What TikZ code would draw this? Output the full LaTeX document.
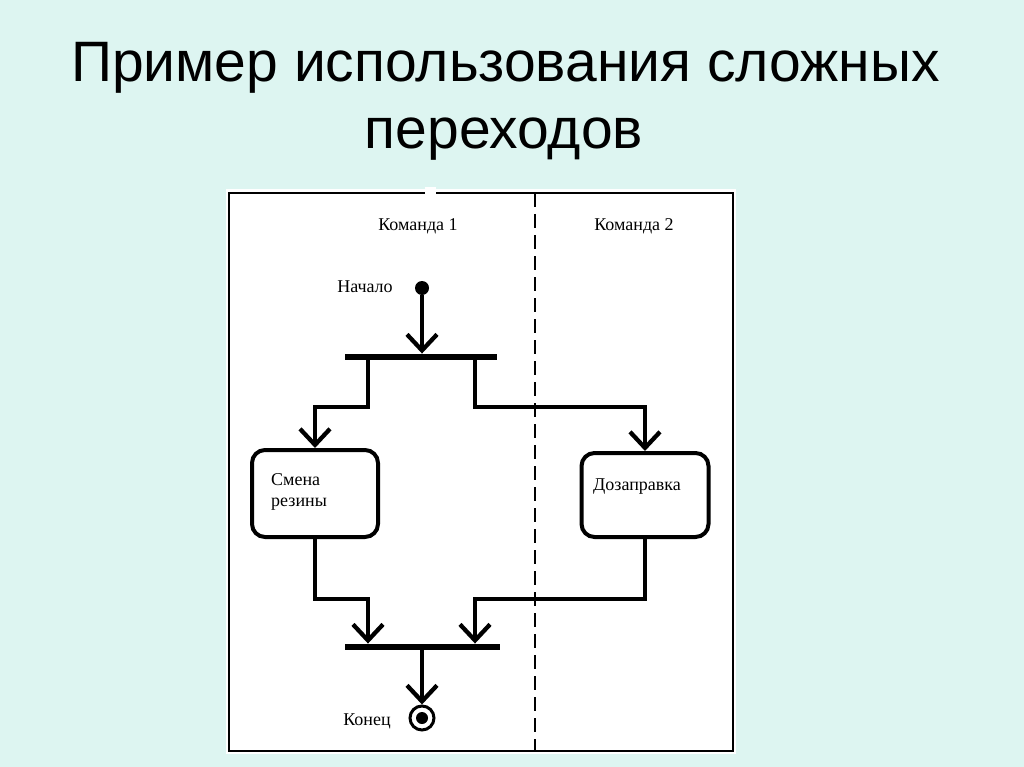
\documentclass[tikz,border=0pt]{standalone}
\usepackage{fontspec}
\setmainfont{Liberation Sans}
\newfontfamily\diagfont{Liberation Serif}
\usetikzlibrary{arrows.meta}
\definecolor{bgc}{RGB}{221,245,241}
\begin{document}
\begin{tikzpicture}[x=1pt,y=-1pt,
 title/.style={font=\fontsize{57}{57}\selectfont, anchor=base, inner sep=0},
 lbl/.style={font=\diagfont\fontsize{18}{18}\selectfont, inner sep=0},
 bar/.style={fill=black, inner sep=0, minimum height=6.5pt},
 act/.style={draw, line width=4pt, rounded corners=13pt, inner sep=0},
 flow/.style={line width=4.3pt, -{Straight Barb[length=16pt,width=30pt]}},
 plain/.style={line width=4pt}
]
\fill[bgc] (0,0) rectangle (1024,767);
\useasboundingbox (0,0) rectangle (1024,767);
% title
\node[title] (title1) at (505.5,82) {Пример использования сложных};
\node[title] (title2) at (504,149) {переходов};
% panel and frame
\fill[white] (226,189) rectangle (736,754);
\draw[line width=1.5pt] (229,193) rectangle (733,751);
\fill[white] (425,187) rectangle (436,196);
% swimlane separator
\draw[line width=1.3pt, dash pattern=on 14pt off 7pt] (535,193) -- (535,751);
% lane labels
\node[lbl, anchor=base] (k1) at (418,230) {Команда 1};
\node[lbl, anchor=base] (k2) at (634,230) {Команда 2};
% start
\node[circle, fill, minimum size=14pt, inner sep=0] (start) at (422,288) {};
\node[lbl, anchor=base] (nach) at (365,292) {Начало};
% fork
\node[bar, minimum width=152pt] (fork) at (421,357) {};
\draw[flow] (start) -- (start |- fork.north);
% activities
\node[act, minimum width=126pt, minimum height=87pt] (b1) at (315,493.5) {};
\node[act, minimum width=127pt, minimum height=84pt] (b2) at (645,495) {};
\node[lbl, anchor=base west] (t1a) at (271,485) {Смена};
\node[lbl, anchor=base west] (t1b) at (271,506) {резины};
\node[lbl, anchor=base west] (t2) at (593,490) {Дозаправка};
% branches
\coordinate (f1) at (368,357);
\coordinate (f2) at (475,357);
\draw[flow] (f1) -- ++(0,50) -| (b1.north);
\draw[flow] (f2) -- ++(0,50) -| (b2.north);
% join
\node[bar, minimum width=155pt] (join) at (422,647) {};
\coordinate (j1) at (368,647);
\coordinate (j2) at (475,647);
\draw[flow] (b1.south) -- ++(0,60) -| (j1 |- join.north);
\draw[flow] (b2.south) -- ++(0,60) -| (j2 |- join.north);
% end
\node[circle, draw, line width=3pt, minimum size=24pt, inner sep=0] (end) at (422,718) {};
\node[circle, fill, minimum size=12pt, inner sep=0] (endin) at (end.center) {};
\draw[flow] (join.south) -- (end.north);
\node[lbl, anchor=base] (kon) at (367,725) {Конец};
\end{tikzpicture}
\end{document}
